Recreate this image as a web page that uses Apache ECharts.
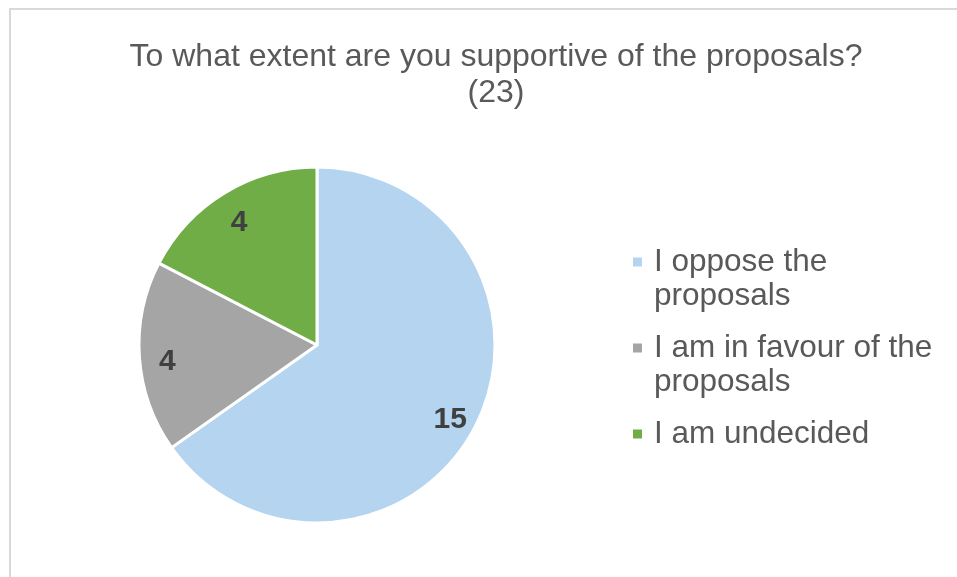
<!DOCTYPE html>
<html>
<head>
<meta charset="utf-8">
<script src="https://cdn.jsdelivr.net/npm/echarts@6/dist/echarts.min.js"></script>
<style>
  html, body { margin: 0; padding: 0; background: #fff; }
  #frame { position: absolute; left: 9px; top: 8px; width: 960px; height: 580px; border: 2px solid #d9d9d9; box-sizing: border-box; }
  #main { position: absolute; left: 0; top: 0; width: 957px; height: 577px; }
</style>
</head>
<body>
<div id="frame"></div>
<div id="main"></div>
<script>
const categories = ['I oppose the proposals', 'I am in favour of the proposals', 'I am undecided'];
const legendLines = ['I oppose the\nproposals', 'I am in favour of the\nproposals', 'I am undecided'];
const counts = [15, 4, 4];
const colors = ['#b4d4f0', '#a5a5a5', '#70ad47'];

// square marker at the top of a tall icon box so it sits on the first text line
const iconTop = 'path://M0,0h11v11h-11z M0,45';

const chart = echarts.init(document.getElementById('main'));

const pieData = categories.map((name, i) => ({
  name: name,
  value: counts[i],
  itemStyle: {color: colors[i]}
}));

let option = {
  animation: false,
  title: {
    text: 'To what extent are you supportive of the proposals?\n(23)',
    left: 496,
    top: 39,
    padding: 0,
    textAlign: 'center',
    textStyle: {
      fontFamily: 'Liberation Sans',
      fontSize: 32,
      lineHeight: 36,
      fontWeight: 'normal',
      color: '#595959'
    }
  },
  legend: {
    orient: 'vertical',
    left: 631,
    top: 245,
    padding: 0,
    itemGap: 18,
    itemWidth: 11,
    itemHeight: 45,
    icon: iconTop,
    data: categories.map((name, i) => ({
      name: name,
      itemStyle: {color: colors[i]}
    })),
    formatter: name => {
      // every entry takes two lines so the spacing stays even
      const txt = legendLines[categories.indexOf(name)];
      return txt.indexOf('\n') >= 0 ? txt : txt + '\n ';
    },
    textStyle: {
      fontFamily: 'Liberation Sans',
      fontSize: 31.5,
      lineHeight: 34,
      color: '#595959',
      padding: [0, 0, 0, 6]
    }
  },
  series: [
    {
      type: 'pie',
      center: [317, 345],
      radius: [0, 178],
      startAngle: 90,
      clockwise: true,
      label: {show: false},
      labelLine: {show: false},
      itemStyle: {borderColor: '#fff', borderWidth: 3},
      emphasis: {disabled: true},
      data: pieData
    },
    {
      // transparent ring only used to place the value labels
      type: 'pie',
      center: [317, 345],
      radius: [116, 178],
      startAngle: 90,
      clockwise: true,
      silent: true,
      itemStyle: {color: 'rgba(0,0,0,0)', borderWidth: 0},
      label: {
        show: true,
        position: 'inside',
        formatter: '{c}',
        fontFamily: 'Liberation Sans',
        fontSize: 30,
        fontWeight: 'bold',
        color: '#404040',
        offset: [0, 6]
      },
      labelLine: {show: false},
      emphasis: {disabled: true},
      data: categories.map((name, i) => ({name: name, value: counts[i]}))
    }
  ]
};
chart.setOption(option);
</script>
</body>
</html>
